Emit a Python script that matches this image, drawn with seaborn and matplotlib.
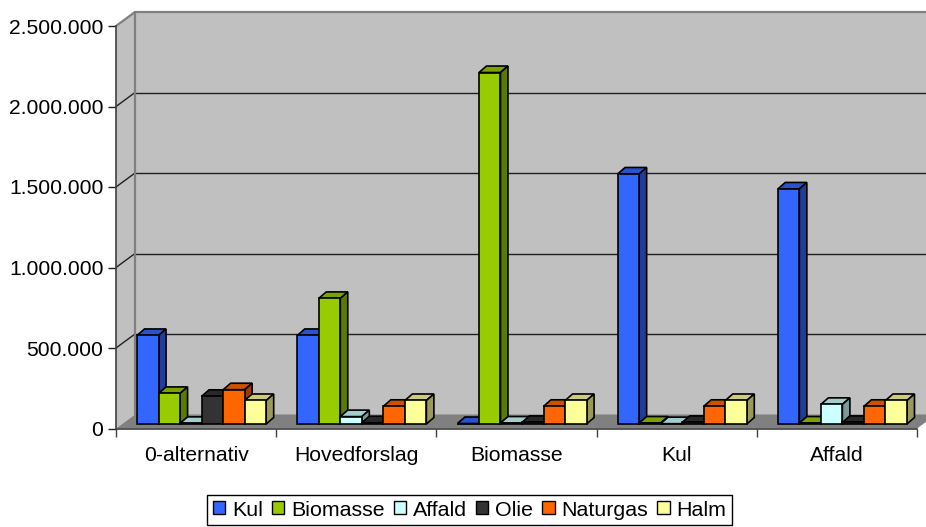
import matplotlib
matplotlib.use('Agg')
import matplotlib.pyplot as plt
from matplotlib.patches import Patch, Polygon
from matplotlib.transforms import Affine2D
import seaborn as sns
import pandas as pd

scenarios = ['0-alternativ', 'Hovedforslag', 'Biomasse', 'Kul', 'Affald']
fuels = ['Kul', 'Biomasse', 'Affald', 'Olie', 'Naturgas', 'Halm']
colors = ['#3366FF', '#99CC00', '#CCFFFF', '#333333', '#FF6600', '#FFFF99']

kul = [550000, 550000, 3000, 1553000, 1460000]
biomasse = [190000, 780000, 2183000, 6000, 6000]
affald = [4000, 46000, 6000, 2000, 122000]
olie = [172000, 8000, 10000, 10000, 10000]
naturgas = [213000, 110000, 110000, 110000, 110000]
halm = [146000, 146000, 146000, 146000, 146000]
yticks = [0, 500000, 1000000, 1500000, 2000000, 2500000]
ylabels = ['0', '500.000', '1.000.000', '1.500.000', '2.000.000', '2.500.000']

rows = []
for fuel, vals in zip(fuels, [kul, biomasse, affald, olie, naturgas, halm]):
    for s, v in zip(scenarios, vals):
        rows.append({'scenario': s, 'fuel': fuel, 'value': v})
df = pd.DataFrame(rows)

sns.set_style('white')
plt.rcParams['font.family'] = ['Liberation Sans', 'DejaVu Sans']

fig = plt.figure(figsize=(9.26, 5.27), dpi=100)
ax = fig.add_axes([116 / 926, (527 - 428.5) / 527, 801 / 926, 402.5 / 527])

sns.barplot(data=df, x='scenario', y='value', hue='fuel', order=scenarios, hue_order=fuels,
            palette=colors, saturation=1, width=129 / 160, gap=0, errorbar=None,
            edgecolor='black', linewidth=1.2, legend=False, ax=ax)
bars = list(ax.patches)
ax.set_xlim(-0.5, 4.5)
ax.set_ylim(0, 2500000)
ax.set_xlabel('')
ax.set_ylabel('')

# pixel -> data units, the 3d look is only offsets
px_x = 5 / 801
px_y = 2500000 / 402.5
back = ax.transData + Affine2D().translate(19, 14)
front = ax.transData + Affine2D().translate(5.5, 4.5)
depth_x = 7.5 * px_x
depth_y = 6.5 * px_y

# walls and floor
x0, x1 = -0.5, 4.5
top = 2500000
ax.add_patch(Polygon([(x0, 0), (x1, 0), (x1, top), (x0, top)], transform=back,
                     fc='#C0C0C0', ec='none', clip_on=False, zorder=0.5))
ax.add_patch(Polygon([(x0, 0), (x0 + 19 * px_x, 14 * px_y), (x0 + 19 * px_x, top + 14 * px_y), (x0, top)],
                     fc='#C0C0C0', ec='none', clip_on=False, zorder=0.5))
ax.add_patch(Polygon([(x0, 0), (x0 + 19 * px_x, 14 * px_y), (x1 + 19 * px_x, 14 * px_y), (x1, 0)],
                     fc='#808080', ec='none', clip_on=False, zorder=0.6))
for t in yticks[1:-1]:
    ax.plot([x0, x1], [t, t], color='#202020', lw=1, transform=back, clip_on=False, zorder=0.7)
    ax.plot([x0, x0 + 19 * px_x], [t, t + 14 * px_y], color='#202020', lw=1, clip_on=False, zorder=0.7)
ax.plot([x0, x0 + 19 * px_x, x1 + 19 * px_x], [top, top + 14 * px_y, top + 14 * px_y],
        color='#808080', lw=1.6, clip_on=False, zorder=0.8)
ax.plot([x0, x0], [0, top], color='#808080', lw=1.6, transform=back, clip_on=False, zorder=0.8)

# bars: top and side faces from the drawn patches
for p in bars:
    bx, bw, bh = p.get_x(), p.get_width(), p.get_height()
    r, g, b = p.get_facecolor()[:3]
    z = 3 + bx
    p.set_transform(front)
    p.set_clip_on(False)
    p.set_zorder(z + 0.01)
    ax.add_patch(Polygon([(bx, bh), (bx + depth_x, bh + depth_y), (bx + bw + depth_x, bh + depth_y), (bx + bw, bh)],
                         transform=front, fc=(r * 0.8, g * 0.8, b * 0.8), ec='black', lw=1.2, clip_on=False, zorder=z))
    ax.add_patch(Polygon([(bx + bw, 0), (bx + bw + depth_x, depth_y), (bx + bw + depth_x, bh + depth_y), (bx + bw, bh)],
                         transform=front, fc=(r * 0.6, g * 0.6, b * 0.6), ec='black', lw=1.2, clip_on=False, zorder=z))

for s in ['top', 'right']:
    ax.spines[s].set_visible(False)
for s in ['left', 'bottom']:
    ax.spines[s].set_color('#404040')
    ax.spines[s].set_linewidth(1.2)
    ax.spines[s].set_zorder(1)

ax.set_yticks(yticks)
ax.set_yticklabels(ylabels, fontsize=15.2, color='black')
ax.set_xticks(range(len(scenarios)))
ax.set_xticklabels(scenarios, fontsize=15.2, color='black')
ax.set_xticks([i - 0.5 for i in range(len(scenarios) + 1)], minor=True)
ax.tick_params(axis='y', left=True, length=6, width=1, color='#202020', pad=3)
ax.tick_params(axis='x', which='major', bottom=False, pad=9)
ax.tick_params(axis='x', which='minor', bottom=True, length=6, width=1, color='#404040')

handles = [Patch(facecolor=c, edgecolor='black', linewidth=1, label=f) for c, f in zip(colors, fuels)]
fig.legend(handles=handles, ncol=6, loc='center', bbox_to_anchor=(469.5 / 926, (527 - 510) / 527),
           fontsize=15.4, labelcolor='black', frameon=True, fancybox=False, framealpha=1, edgecolor='black',
           handlelength=0.58, handleheight=0.55, handletextpad=0.32, columnspacing=0.42,
           borderpad=0.27, borderaxespad=0)

fig.savefig('out.png', dpi=100, facecolor='white')
